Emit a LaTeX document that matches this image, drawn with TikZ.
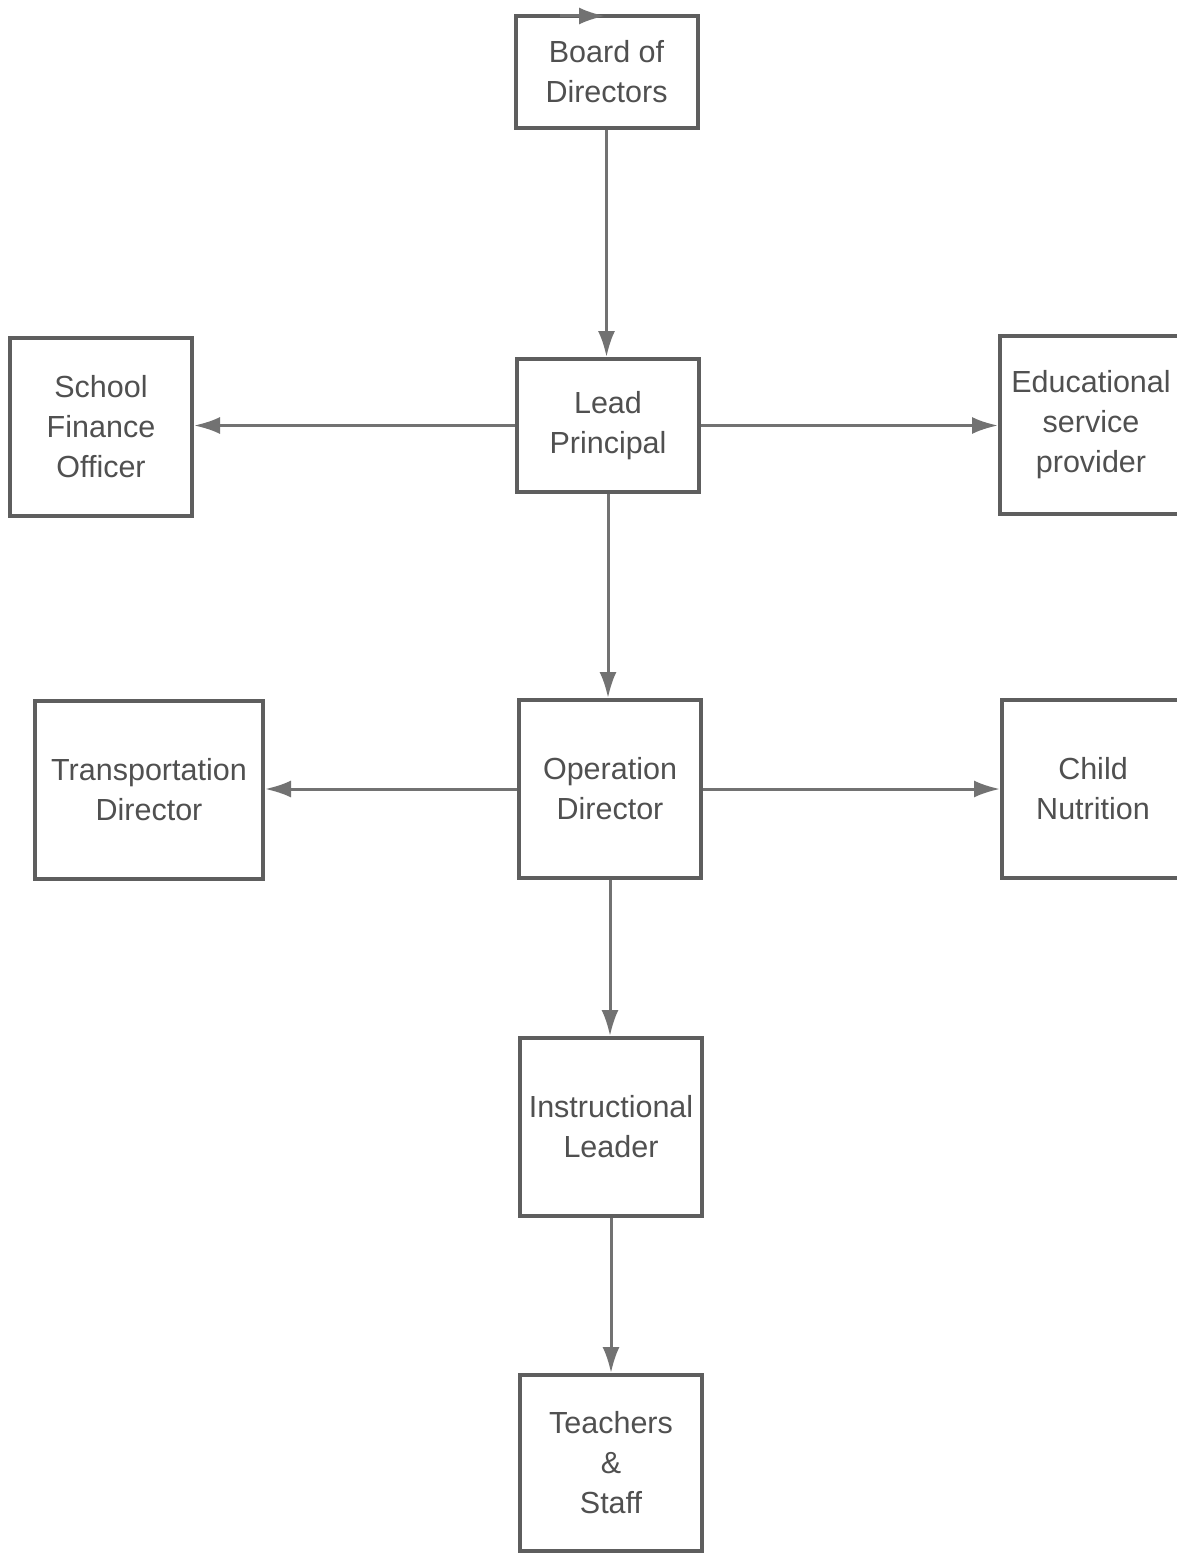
\documentclass[tikz,border=0pt]{standalone}
\usepackage{fontspec}
\setmainfont{Liberation Sans}
\usetikzlibrary{arrows.meta}
\definecolor{boxgray}{HTML}{5E5E5E}
\definecolor{textgray}{HTML}{505050}
\definecolor{arrowgray}{HTML}{727272}
\begin{document}
\begin{tikzpicture}[x=1pt,y=-1pt,
  post/.style={draw=boxgray,line width=4pt,fill=white,inner sep=2pt,align=center,
    text=textgray,font=\fontsize{30.5}{40}\selectfont,minimum width=182pt,minimum height=178pt},
  link/.style={draw=arrowgray,line width=3pt,-{Latex[length=26pt,width=17pt]}}]
  \useasboundingbox (0,0) rectangle (1176,1554);
  \node[post,minimum height=112pt] (board) at (606.5,72) {Board of\\Directors};
  \node[post,minimum height=133pt] (lead) at (608,425.5) {Lead\\Principal};
  \node[post] (finance) at (101,427) {School\\Finance\\Officer};
  \node[post] (edu) at (1091,425) {Educational\\service\\provider};
  \node[post,minimum width=228pt] (transport) at (149,790) {Transportation\\Director};
  \node[post] (oper) at (610,789) {Operation\\Director};
  \node[post] (child) at (1093,788.5) {Child\\Nutrition};
  \node[post] (instr) at (611,1127) {Instructional\\Leader};
  \node[post,minimum height=176pt] (staff) at (611,1463) {Teachers\\\&\\Staff};
  % stray tip on the top edge of the board
  \coordinate (tipstart) at (560,16);
  \coordinate (tipend) at (605,16);
  \draw[link] (tipstart) -- (tipend);
  \draw[link] (board.south) -- (board.south |- lead.north);
  \draw[link] (lead.west) -- (lead.west -| finance.east);
  \draw[link] (lead.east) -- (lead.east -| edu.west);
  \draw[link] (lead.south) -- (lead.south |- oper.north);
  \draw[link] (oper.west) -- (oper.west -| transport.east);
  \draw[link] (oper.east) -- (oper.east -| child.west);
  \draw[link] (oper.south) -- (oper.south |- instr.north);
  \draw[link] (instr.south) -- (instr.south |- staff.north);
\end{tikzpicture}
\end{document}
